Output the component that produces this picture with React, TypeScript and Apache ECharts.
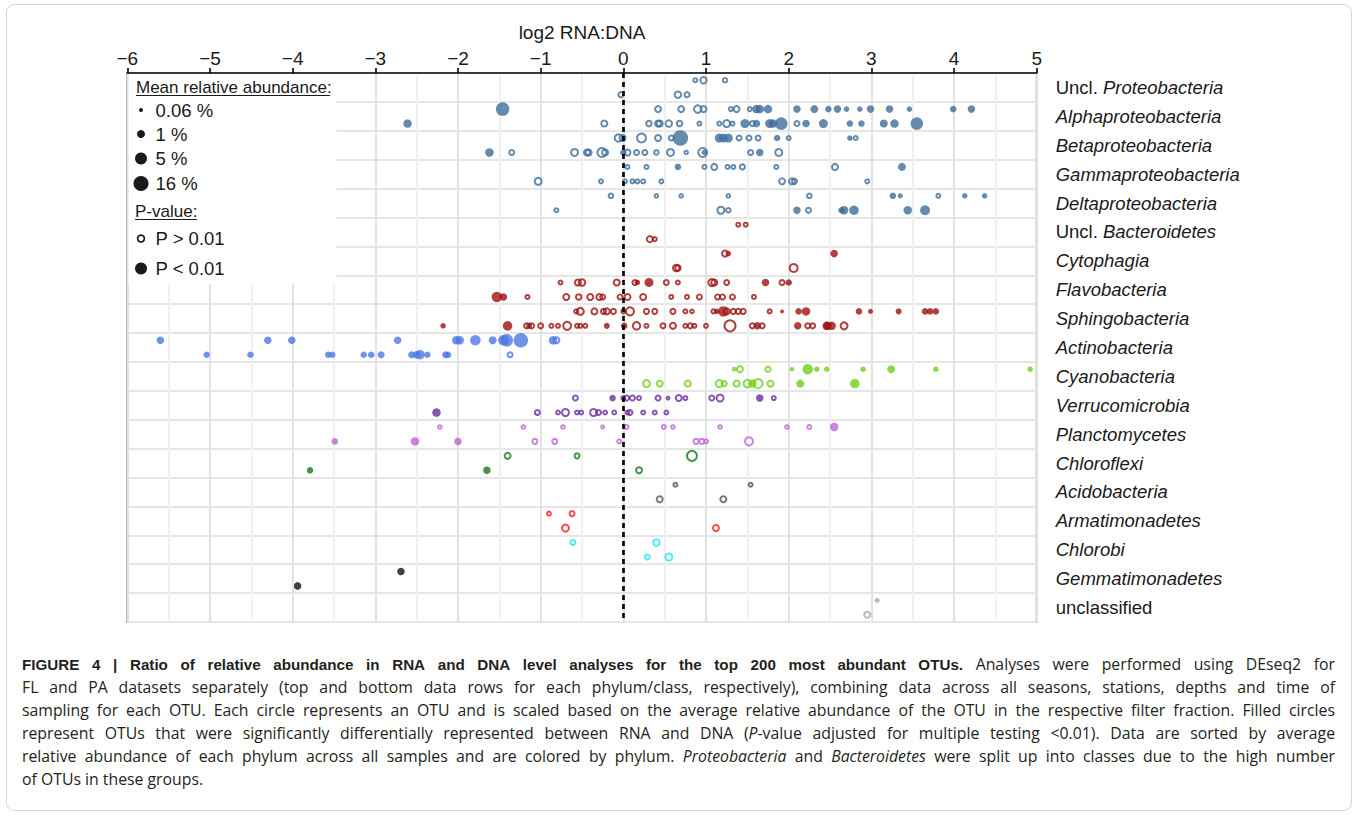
import React, { useEffect, useRef } from "react";
import * as echarts from "echarts";

// Each OTU: [log2 RNA:DNA, mean relative abundance (%), significant (1 = P < 0.01)]
const unclProteoFL = [[0.87, 0.12, 0], [0.97, 0.7, 0], [1.23, 0.18, 0]];
const unclProteoPA = [[-0.03, 0.25, 0], [0.66, 0.7, 0], [0.77, 0.25, 0]];

const alphaFL = [
  [-1.46, 7.4, 1], [0.42, 0.5, 0], [0.7, 0.5, 0], [0.9, 1.2, 0], [0.97, 0.5, 0], [1.3, 0.12, 0],
  [1.37, 0.5, 0], [1.53, 0.12, 0], [1.61, 1, 1], [1.65, 1, 1], [1.75, 1, 1], [2.1, 0.5, 1],
  [2.31, 0.7, 1], [2.48, 0.25, 1], [2.59, 0.5, 1], [2.7, 0.12, 1], [2.86, 0.12, 1], [2.99, 0.5, 1],
  [3.22, 0.5, 1], [3.46, 0.12, 1], [3.99, 0.25, 1], [4.21, 0.5, 1],
];
const alphaPA = [
  [-2.61, 1, 1], [-0.23, 0.5, 0], [0.31, 0.35, 0], [0.42, 0.5, 0], [0.44, 0.5, 0], [0.55, 0.7, 0],
  [0.68, 0.35, 0], [0.92, 0.12, 0], [1.16, 0.12, 0], [1.25, 1, 0], [1.32, 0.12, 0], [1.47, 1.2, 1],
  [1.56, 0.25, 0], [1.61, 0.5, 1], [1.77, 1.2, 1], [1.81, 1, 1], [1.91, 5, 1], [2.1, 0.25, 0],
  [2.21, 0.5, 1], [2.42, 1.2, 1], [2.74, 0.25, 1], [2.88, 0.25, 1], [3.15, 0.7, 1], [3.28, 1, 1],
  [3.55, 5, 1],
];

const betaFL = [
  [-0.06, 1.2, 0], [-0.01, 0.5, 0], [0.22, 2.2, 0], [0.42, 0.5, 0], [0.58, 0.25, 0], [0.69, 16, 1],
  [1.16, 1.2, 1], [1.21, 1.2, 1], [1.27, 1.2, 1], [1.4, 0.25, 0], [1.52, 0.25, 0], [1.63, 0.25, 0],
  [1.86, 0.25, 1], [2.0, 0.12, 0], [2.74, 0.12, 1], [2.81, 0.12, 0],
];
const betaPA = [
  [-1.62, 1, 1], [-1.35, 0.25, 0], [-0.59, 1, 0], [-0.44, 0.5, 0], [-0.42, 0.5, 0], [-0.26, 2.2, 0],
  [-0.22, 0.5, 0], [0.0, 0.25, 1], [0.05, 0.5, 0], [0.16, 0.25, 0], [0.26, 0.25, 0], [0.4, 0.18, 0],
  [0.57, 1, 0], [0.76, 0.09, 0], [0.96, 2.2, 0], [0.98, 0.12, 1], [1.54, 0.25, 0], [1.65, 0.5, 1],
  [1.88, 1, 0],
];

const gammaFL = [
  [0.05, 0.12, 0], [0.28, 0.12, 0], [0.66, 0.25, 1], [0.98, 0.12, 0], [1.1, 0.5, 0], [1.26, 0.12, 0],
  [1.33, 0.12, 0], [1.44, 0.25, 0], [1.85, 0.12, 0], [2.56, 0.5, 0], [3.37, 0.7, 1],
];
const gammaPA = [
  [-1.03, 1, 0], [-0.27, 0.12, 0], [0.02, 0.12, 0], [0.11, 0.12, 0], [0.17, 0.12, 0], [0.24, 0.12, 0],
  [0.46, 0.12, 0], [1.92, 0.5, 0], [2.04, 0.5, 0], [2.07, 0.25, 0], [2.95, 0.12, 0],
];

const deltaFL = [
  [-0.15, 0.18, 0], [0.4, 0.09, 0], [0.7, 0.09, 0], [1.27, 0.09, 0], [2.25, 0.18, 0], [3.26, 0.25, 1],
  [3.35, 0.09, 1], [3.81, 0.12, 0], [4.13, 0.12, 1], [4.37, 0.12, 1],
];
const deltaPA = [
  [-0.81, 0.12, 0], [1.18, 1, 0], [1.27, 0.18, 0], [2.1, 0.5, 1], [2.24, 0.25, 0], [2.64, 0.25, 1],
  [2.67, 1, 1], [2.79, 1.5, 1], [3.44, 1, 1], [3.65, 1.8, 1],
];

const unclBactFL = [[1.39, 0.12, 0], [1.48, 0.12, 0]];
const unclBactPA = [[0.32, 0.5, 0], [0.38, 0.12, 0]];

const cytoFL = [[1.23, 0.5, 0], [1.27, 0.09, 0], [2.55, 0.5, 1]];
const cytoPA = [[0.64, 0.7, 0], [0.66, 0.35, 0], [2.06, 1.5, 0]];

const flavoFL = [
  [-0.76, 0.12, 0], [-0.55, 0.5, 0], [-0.5, 0.7, 0], [-0.08, 0.5, 0], [0.14, 0.25, 0], [0.17, 0.12, 1],
  [0.31, 1.2, 1], [0.52, 0.25, 0], [0.66, 0.12, 0], [1.07, 1, 0], [1.1, 0.5, 0], [1.25, 0.25, 0],
  [1.72, 0.5, 1], [1.92, 0.25, 0], [2.0, 0.25, 1],
];
const flavoPA = [
  [-1.53, 2.2, 1], [-1.45, 0.5, 1], [-1.16, 0.12, 0], [-0.69, 0.5, 0], [-0.54, 0.35, 0], [-0.4, 0.5, 0],
  [-0.29, 0.5, 0], [-0.25, 0.25, 0], [-0.04, 0.25, 0], [0.05, 0.5, 0], [0.24, 0.5, 0], [0.58, 0.12, 0],
  [0.77, 0.12, 0], [0.92, 0.25, 0], [1.14, 0.25, 0], [1.2, 0.25, 0], [1.32, 0.25, 0], [1.58, 0.12, 0],
];

const sphingoFL = [
  [-0.57, 0.12, 0], [-0.52, 1, 0], [-0.35, 0.5, 0], [-0.24, 0.25, 0], [-0.2, 0.5, 0], [-0.12, 0.25, 0],
  [0.0, 0.12, 0], [0.08, 1.5, 0], [0.28, 0.25, 0], [0.38, 0.25, 0], [0.6, 0.25, 0], [0.75, 0.12, 0],
  [0.83, 0.09, 0], [1.09, 0.12, 0], [1.13, 0.12, 1], [1.21, 2.2, 1], [1.25, 0.5, 0], [1.33, 0.25, 0],
  [1.39, 0.25, 0], [1.45, 0.25, 0], [1.77, 0.12, 0], [1.92, 0.04, 1], [2.12, 0.25, 1], [2.21, 1, 1],
  [2.85, 0.25, 1], [2.99, 0.09, 1], [3.33, 0.18, 1], [3.65, 0.25, 1], [3.71, 0.25, 1], [3.78, 0.25, 1],
];
const sphingoPA = [
  [-2.18, 0.12, 1], [-1.4, 1.5, 1], [-1.17, 0.25, 0], [-1.14, 0.12, 0], [-1.11, 0.25, 0], [-1.0, 0.25, 0],
  [-0.87, 0.12, 0], [-0.79, 0.12, 0], [-0.68, 1.5, 0], [-0.56, 0.12, 0], [-0.52, 0.12, 0], [-0.46, 0.12, 0],
  [-0.2, 0.18, 1], [0.01, 0.25, 1], [0.16, 1.2, 0], [0.28, 0.12, 0], [0.48, 0.25, 0], [0.6, 0.5, 0],
  [0.75, 0.12, 0], [0.81, 0.25, 0], [0.86, 0.12, 0], [1.0, 0.12, 0], [1.29, 5, 0], [1.56, 0.25, 0],
  [1.62, 0.5, 1], [1.68, 0.25, 0], [2.11, 0.5, 1], [2.23, 0.25, 0], [2.29, 0.25, 0], [2.46, 1, 1],
  [2.47, 1, 1], [2.52, 1, 1], [2.67, 1, 0],
];

const actinoFL = [
  [-5.6, 0.5, 1], [-4.3, 0.5, 1], [-4.01, 0.5, 1], [-2.73, 0.5, 1], [-2.02, 1, 1], [-1.98, 1, 1],
  [-1.79, 2.2, 1], [-1.58, 0.7, 1], [-1.45, 2.2, 1], [-1.41, 5, 1], [-1.24, 11, 1], [-0.85, 1, 1],
  [-0.81, 0.5, 0],
];
const actinoPA = [
  [-5.04, 0.25, 1], [-4.51, 0.25, 1], [-3.57, 0.25, 1], [-3.52, 0.25, 1], [-3.14, 0.25, 1], [-3.05, 0.25, 1],
  [-2.93, 0.35, 1], [-2.56, 0.35, 1], [-2.5, 0.5, 1], [-2.46, 1.5, 1], [-2.37, 0.25, 1], [-2.15, 0.35, 1],
  [-2.12, 0.25, 1], [-1.37, 0.25, 0],
];

const cyanoFL = [
  [1.34, 0.06, 0], [1.41, 0.5, 0], [1.75, 0.25, 0], [2.04, 0.06, 1], [2.23, 2.2, 1], [2.34, 0.12, 1],
  [2.46, 0.12, 1], [2.9, 0.12, 1], [3.24, 0.7, 1], [3.78, 0.12, 1], [4.92, 0.12, 1],
];
const cyanoPA = [
  [0.28, 1, 0], [0.44, 0.5, 0], [0.78, 0.5, 0], [1.16, 1, 0], [1.22, 0.25, 0], [1.37, 0.5, 0],
  [1.5, 1.2, 0], [1.56, 1, 1], [1.63, 2.2, 0], [1.78, 0.5, 0], [2.14, 0.7, 1], [2.8, 1.5, 1],
];

const verrucoFL = [
  [-0.58, 0.25, 0], [-0.13, 0.25, 1], [0.0, 0.12, 0], [0.04, 0.25, 0], [0.11, 0.25, 0], [0.19, 0.12, 0],
  [0.42, 0.25, 0], [0.54, 0.04, 0], [0.67, 0.5, 0], [0.75, 0.12, 0], [1.07, 0.25, 0], [1.17, 1, 0],
  [1.65, 0.5, 1], [1.82, 0.12, 0],
];
const verrucoPA = [
  [-2.26, 1, 1], [-1.04, 0.25, 0], [-0.79, 0.12, 0], [-0.7, 1, 0], [-0.56, 0.12, 0], [-0.51, 0.12, 0],
  [-0.36, 1, 0], [-0.3, 0.25, 0], [-0.22, 0.12, 0], [-0.11, 0.12, 0], [0.05, 0.12, 0], [0.08, 0.25, 0],
  [0.24, 0.12, 0], [0.38, 0.12, 0], [0.52, 0.12, 0],
];

const planctoFL = [
  [-2.22, 0.09, 0], [-1.21, 0.09, 0], [-0.73, 0.09, 0], [-0.25, 0.06, 0], [0.04, 0.12, 0], [0.49, 0.12, 0],
  [0.6, 0.09, 0], [1.17, 0.09, 0], [1.98, 0.09, 0], [2.25, 0.12, 0], [2.55, 1, 1],
];
const planctoPA = [
  [-3.49, 0.25, 1], [-2.52, 1, 1], [-2.0, 0.5, 1], [-1.07, 0.25, 0], [-0.83, 0.25, 0], [-0.05, 0.12, 0],
  [0.88, 0.25, 0], [0.95, 0.25, 0], [1.0, 0.12, 0], [1.52, 1.5, 0],
];

const chloroflexiFL = [[-1.4, 0.5, 0], [-0.56, 0.25, 0], [0.83, 3.3, 0]];
const chloroflexiPA = [[-3.79, 0.25, 1], [-1.65, 0.5, 1], [0.19, 0.5, 0]];

const acidoFL = [[0.63, 0.12, 0], [1.54, 0.12, 0]];
const acidoPA = [[0.44, 0.5, 0], [1.21, 0.5, 0]];

const armatiFL = [[-0.9, 0.12, 0], [-0.62, 0.25, 0]];
const armatiPA = [[-0.7, 1, 0], [1.12, 0.5, 0]];

const chlorobiFL = [[-0.61, 0.25, 0], [0.4, 0.7, 0]];
const chlorobiPA = [[0.29, 0.25, 0], [0.55, 1, 0]];

const gemmaFL = [[-2.69, 0.5, 1]];
const gemmaPA = [[-3.94, 0.5, 1]];

const unclassifiedFL = [[3.07, 0.09, 1]];
const unclassifiedPA = [[2.95, 0.5, 0]];

const categories = [
  "Uncl. Proteobacteria", "Alphaproteobacteria", "Betaproteobacteria", "Gammaproteobacteria",
  "Deltaproteobacteria", "Uncl. Bacteroidetes", "Cytophagia", "Flavobacteria", "Sphingobacteria",
  "Actinobacteria", "Cyanobacteria", "Verrucomicrobia", "Planctomycetes", "Chloroflexi",
  "Acidobacteria", "Armatimonadetes", "Chlorobi", "Gemmatimonadetes", "unclassified",
];

const xTicks = [-6, -5, -4, -3, -2, -1, 0, 1, 2, 3, 4, 5];

const PROTEO = "#3d6d99";
const BACTERO = "#9e1212";
const colors = [
  PROTEO, PROTEO, PROTEO, PROTEO, PROTEO, BACTERO, BACTERO, BACTERO, BACTERO,
  "#4a78e4", "#6fd11b", "#6a2d9f", "#c063da", "#167816", "#555555", "#ff1e1e", "#25e6ee", "#111111", "#aaaaaa",
];

const rowsFL = [
  unclProteoFL, alphaFL, betaFL, gammaFL, deltaFL, unclBactFL, cytoFL, flavoFL, sphingoFL,
  actinoFL, cyanoFL, verrucoFL, planctoFL, chloroflexiFL, acidoFL, armatiFL, chlorobiFL, gemmaFL, unclassifiedFL,
];
const rowsPA = [
  unclProteoPA, alphaPA, betaPA, gammaPA, deltaPA, unclBactPA, cytoPA, flavoPA, sphingoPA,
  actinoPA, cyanoPA, verrucoPA, planctoPA, chloroflexiPA, acidoPA, armatiPA, chlorobiPA, gemmaPA, unclassifiedPA,
];

// Legend sizes: abundance (%) -> circle diameter (px)
const sizeLegend = [0.06, 1, 5, 16];
const sizeDiam = [4, 8, 12, 15];

// Caption, one array of [style, text] runs per printed line (b = bold, r = regular, i = italic)
const captionLines: [string, string][][] = [
  [["b", "FIGURE 4 | Ratio of relative abundance in RNA and DNA level analyses for the top 200 most abundant OTUs."], ["r", " Analyses were performed using DEseq2 for"]],
  [["r", "FL and PA datasets separately (top and bottom data rows for each phylum/class, respectively), combining data across all seasons, stations, depths and time of"]],
  [["r", "sampling for each OTU. Each circle represents an OTU and is scaled based on the average relative abundance of the OTU in the respective filter fraction. Filled circles"]],
  [["r", "represent OTUs that were significantly differentially represented between RNA and DNA ("], ["i", "P"], ["r", "-value adjusted for multiple testing <0.01). Data are sorted by average"]],
  [["r", "relative abundance of each phylum across all samples and are colored by phylum. "], ["i", "Proteobacteria"], ["r", " and "], ["i", "Bacteroidetes"], ["r", " were split up into classes due to the high number"]],
  [["r", "of OTUs in these groups."]],
];

function sizeFor(a: number) {
  const l = Math.log10(a);
  const ls = sizeLegend.map((v) => Math.log10(v));
  let k = 0;
  if (l > ls[1]) k = l > ls[2] ? 2 : 1;
  const t = (l - ls[k]) / (ls[k + 1] - ls[k]);
  return Math.max(3, sizeDiam[k] + t * (sizeDiam[k + 1] - sizeDiam[k]));
}

const FONT = "'Liberation Sans', Arial, Helvetica, sans-serif";
const BODY_FONT = "'Open Sans', 'Liberation Sans', Arial, sans-serif";
const INK = "#1a1a1a";
const CAPTION_INK = "#231f20";
const CAPTION_SIZE = 15.8;
const CAPTION_BOLD_SIZE = 15.2;
const CAPTION_LEFT = 22;
const CAPTION_RIGHT = 1335;

const captionFonts: Record<string, string> = {
  b: `bold ${CAPTION_BOLD_SIZE}px ${FONT}`,
  r: `${CAPTION_SIZE}px ${BODY_FONT}`,
  i: `italic ${CAPTION_SIZE}px ${BODY_FONT}`,
};

function buildSeries() {
  const series: any[] = [];
  categories.forEach((_, i) => {
    const color = colors[i];
    const filled: any[] = [];
    const hollow: any[] = [];
    [[rowsFL[i], 0.25], [rowsPA[i], 0.75]].forEach(([rows, off]: any) => {
      rows.forEach((p: number[]) => {
        const item = [p[0], i + off, p[1]];
        if (p[2]) filled.push(item);
        else hollow.push(item);
      });
    });
    series.push({
      type: "scatter",
      silent: true,
      data: hollow,
      symbol: "circle",
      symbolSize: (v: number[]) => Math.max(3, sizeFor(v[2]) - 1),
      itemStyle: { color: "rgba(255,255,255,0)", borderColor: color, borderWidth: 2 },
      z: 3,
    });
    series.push({
      type: "scatter",
      silent: true,
      data: filled,
      symbol: "circle",
      symbolSize: (v: number[]) => sizeFor(v[2]) + 0.5,
      itemStyle: { color },
      z: 4,
    });
  });
  series[0].markLine = {
    silent: true,
    symbol: "none",
    label: { show: false },
    lineStyle: { color: "#000", type: [5, 4], width: 2.6 },
    data: [{ xAxis: 0 }],
    z: 5,
  };
  return series;
}

function legendGraphics() {
  const g: any[] = [];
  g.push({
    type: "rect",
    z: 100,
    shape: { x: 128.5, y: 74, width: 208, height: 210 },
    style: { fill: "#fff" },
  });
  const text = (x: number, y: number, s: string, size: number) => ({
    type: "text",
    z: 101,
    x,
    y,
    style: { text: s, fill: INK, font: `${size}px ${FONT}`, verticalAlign: "middle", align: "left" },
  });
  g.push(text(136, 87, "Mean relative abundance:", 17));
  g.push({ type: "line", z: 101, shape: { x1: 136, y1: 95.5, x2: 330, y2: 95.5 }, style: { stroke: INK, lineWidth: 1 } });
  const labels = ["0.06 %", "1 %", "5 %", "16 %"];
  const ys = [110, 134, 158.5, 183.5];
  sizeLegend.forEach((a, k) => {
    g.push({ type: "circle", z: 101, shape: { cx: 141, cy: ys[k], r: sizeDiam[k] / 2 }, style: { fill: INK } });
    g.push(text(155.5, ys[k], labels[k], 18.5));
  });
  g.push(text(135, 211, "P-value:", 17));
  g.push({ type: "line", z: 101, shape: { x1: 135, y1: 219.5, x2: 197, y2: 219.5 }, style: { stroke: INK, lineWidth: 1 } });
  g.push({ type: "circle", z: 101, shape: { cx: 141, cy: 238.5, r: 3.4 }, style: { fill: "none", stroke: INK, lineWidth: 1.7 } });
  g.push(text(155.5, 238.5, "P > 0.01", 18.5));
  g.push({ type: "circle", z: 101, shape: { cx: 141, cy: 268.5, r: 6 }, style: { fill: INK } });
  g.push(text(155.5, 268.5, "P < 0.01", 18.5));
  return g;
}

// Justified caption: each word is placed separately so every full line spans the same width.
function captionGraphics() {
  const ctx = document.createElement("canvas").getContext("2d") as CanvasRenderingContext2D;
  const measure = (st: string, s: string) => {
    ctx.font = captionFonts[st];
    return ctx.measureText(s).width;
  };
  const base = { fontSize: CAPTION_SIZE, fontFamily: BODY_FONT, color: CAPTION_INK };
  const rich = {
    b: { fontSize: CAPTION_BOLD_SIZE, fontFamily: FONT, fontWeight: "bold", color: CAPTION_INK },
    r: { ...base },
    i: { ...base, fontStyle: "italic" },
  };
  const out: any[] = [];
  captionLines.forEach((runs, k) => {
    const words: { pieces: [string, string][]; width: number }[] = [];
    let cur: { pieces: [string, string][]; width: number } | null = null;
    runs.forEach(([st, txt]) => {
      txt.split(" ").forEach((p, idx) => {
        if (idx > 0 && cur) {
          words.push(cur);
          cur = null;
        }
        if (p.length) {
          if (!cur) cur = { pieces: [], width: 0 };
          cur.pieces.push([st, p]);
          cur.width += measure(st, p);
        }
      });
    });
    if (cur) words.push(cur);
    const total = words.reduce((s, w) => s + w.width, 0);
    const last = k === captionLines.length - 1;
    const gap = last || words.length < 2
      ? measure("r", " ")
      : (CAPTION_RIGHT - CAPTION_LEFT - total) / (words.length - 1);
    let x = CAPTION_LEFT;
    words.forEach((w) => {
      out.push({
        type: "text",
        z: 50,
        x,
        y: 664 + k * 23,
        silent: true,
        style: {
          text: w.pieces.map(([st, s]) => `{${st}|${s}}`).join(""),
          verticalAlign: "middle",
          align: "left",
          fill: CAPTION_INK,
          rich,
        },
      });
      x += w.width + gap;
    });
  });
  return out;
}

export default function App() {
  const ref = useRef<HTMLDivElement>(null);
  useEffect(() => {
    if (!ref.current) return;
    const chart = echarts.init(ref.current, undefined, { renderer: "svg" });
    chart.setOption({
      animation: false,
      backgroundColor: "#fff",
      textStyle: { fontFamily: FONT },
      grid: {
        left: 127.3,
        right: 1358 - 1036.7,
        top: 73,
        bottom: 816 - 622,
        show: true,
        borderColor: "#9a9a9a",
        borderWidth: 2,
        backgroundColor: "rgba(0,0,0,0)",
      },
      xAxis: {
        type: "value",
        position: "top",
        min: xTicks[0],
        max: xTicks[xTicks.length - 1],
        interval: 1,
        name: "log2 RNA:DNA",
        nameLocation: "middle",
        nameGap: 31,
        nameTextStyle: { fontSize: 19, color: INK, fontFamily: FONT },
        axisLine: { show: true, lineStyle: { color: "#000", width: 1.6 } },
        axisTick: { show: true, length: 5, lineStyle: { color: "#000", width: 1.6 } },
        axisLabel: {
          fontSize: 19,
          color: INK,
          margin: 5,
          formatter: (v: number) => (v < 0 ? "\u2212" + Math.abs(v) : String(v)),
        },
        splitLine: { show: true, lineStyle: { color: "#e2e2e2", width: 2 } },
        minorTick: { show: false, splitNumber: 2 },
        minorSplitLine: { show: true, lineStyle: { color: "#f1f1f1", width: 2 } },
      },
      yAxis: [
        {
          type: "value",
          position: "left",
          min: 0,
          max: categories.length,
          interval: 1,
          inverse: true,
          axisLine: { show: false },
          axisTick: { show: false },
          axisLabel: { show: false },
          splitLine: { show: true, lineStyle: { color: "#e6e6e6", width: 2 } },
        },
        {
          type: "category",
          position: "right",
          data: categories,
          inverse: true,
          axisLine: { show: false },
          axisTick: { show: false },
          splitLine: { show: false },
          axisLabel: {
            margin: 19,
            align: "left",
            formatter: (v: string) => {
              if (v.startsWith("Uncl. ")) return `{n|Uncl. }{i|${v.slice(6)}}`;
              if (v === "unclassified") return `{n|${v}}`;
              return `{i|${v}}`;
            },
            rich: {
              n: { fontSize: 18.5, color: INK, fontFamily: FONT },
              i: { fontSize: 18.5, color: INK, fontFamily: FONT, fontStyle: "italic" },
            },
          },
        },
      ],
      series: buildSeries(),
      graphic: [
        {
          type: "rect",
          z: 0,
          shape: { x: 6.5, y: 4.5, width: 1345, height: 806, r: 8 },
          style: { fill: "none", stroke: "#d4d4d4", lineWidth: 1 },
          silent: true,
        },
        ...legendGraphics(),
        ...captionGraphics(),
      ],
    });
    return () => chart.dispose();
  }, []);
  return (
    <div
      ref={ref}
      style={{ position: "absolute", left: 0, top: 0, width: 1358, height: 816, background: "#fff" }}
    />
  );
}
